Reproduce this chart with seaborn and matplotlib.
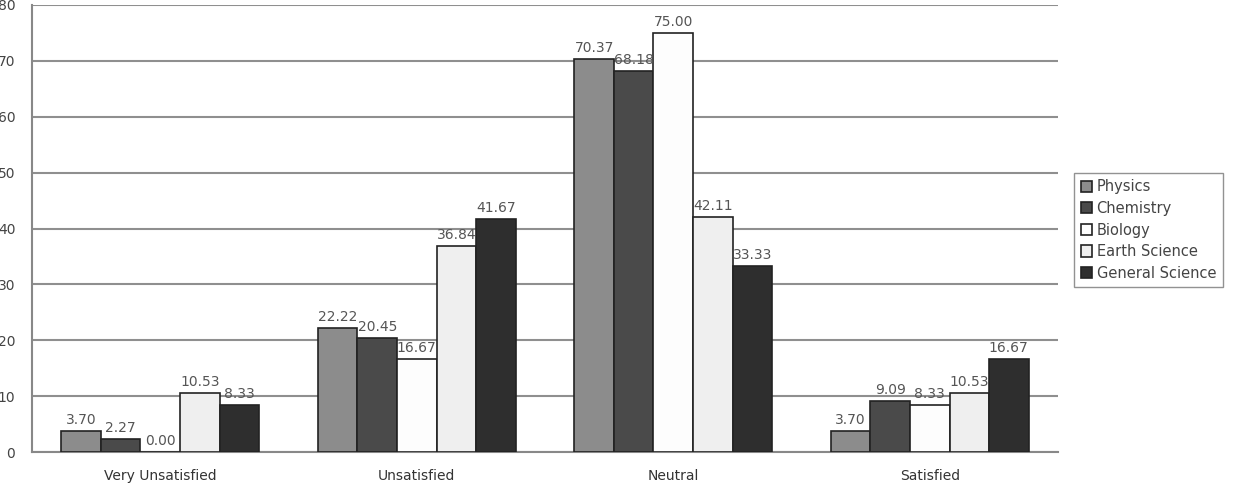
import numpy as np
import pandas as pd
import seaborn as sns
from matplotlib import pyplot as plt
from matplotlib.ticker import FixedLocator

# Values
categories = ['Very Unsatisfied', 'Unsatisfied', 'Neutral', 'Satisfied']
subjects = ['Physics', 'Chemistry', 'Biology', 'Earth Science', 'General Science']
physics = [3.70, 22.22, 70.37, 3.70]
chemistry = [2.27, 20.45, 68.18, 9.09]
biology = [0.00, 16.67, 75.00, 8.33]
earth_science = [10.53, 36.84, 42.11, 10.53]
general_science = [8.33, 41.67, 33.33, 16.67]
y_ticks = [0, 10, 20, 30, 40, 50, 60, 70, 80]

colors = ['#8c8c8c', '#4a4a4a', '#fdfdfd', '#efefef', '#2e2e2e']

rows = []
for subj, vals in zip(subjects, [physics, chemistry, biology, earth_science, general_science]):
    for cat, v in zip(categories, vals):
        rows.append({'Category': cat, 'Subject': subj, 'Value': v})
df = pd.DataFrame(rows)

sns.set_style('white')
plt.rcParams['font.family'] = ['DejaVu Sans']

fig = plt.figure(figsize=(12.41, 4.88), dpi=100, facecolor='white')
ax = fig.add_axes([32 / 1241, 36 / 488, 1026 / 1241, 447 / 488])

sns.barplot(data=df, x='Category', y='Value', hue='Subject', order=categories, hue_order=subjects,
            palette=colors, width=0.77, gap=0, edgecolor='#222222', linewidth=1.2,
            saturation=1, errorbar=None, ax=ax, zorder=3)

for cont in ax.containers:
    ax.bar_label(cont, fmt='%.2f', padding=3, fontsize=10, color='#555555')

ax.set_ylim(0, 80)
ax.set_xlim(-0.5, 3.5)
ax.set_yticks(y_ticks)
ax.set_yticklabels([str(t) for t in y_ticks])
ax.tick_params(axis='y', length=0, pad=12, labelsize=10, labelcolor='#444444')
ax.tick_params(axis='x', length=0, pad=12, labelsize=10, labelcolor='#333333')
ax.xaxis.set_minor_locator(FixedLocator([0.5, 1.5, 2.5, 3.5]))
ax.tick_params(axis='x', which='minor', direction='in', length=6, color='#888888', width=1.2)
ax.set_xlabel('')
ax.set_ylabel('')
ax.grid(axis='y', color='#8f8f8f', linewidth=1.5, zorder=0)

for side in ['top', 'right']:
    ax.spines[side].set_visible(False)
for side in ['left', 'bottom']:
    ax.spines[side].set_color('#888888')
    ax.spines[side].set_linewidth(1.5)

leg = ax.legend(loc='center left', bbox_to_anchor=(1074 / 1241, (488 - 230) / 488), bbox_transform=fig.transFigure,
                frameon=True, fancybox=False, fontsize=10.5, handlelength=0.8, handleheight=0.8,
                handletextpad=0.3, borderpad=0.45, labelspacing=0.45, borderaxespad=0)
leg.get_frame().set_edgecolor('#777777')
leg.get_frame().set_linewidth(1.0)
for t in leg.get_texts():
    t.set_color('#444444')

fig.savefig('out.png', dpi=100, facecolor='white')
